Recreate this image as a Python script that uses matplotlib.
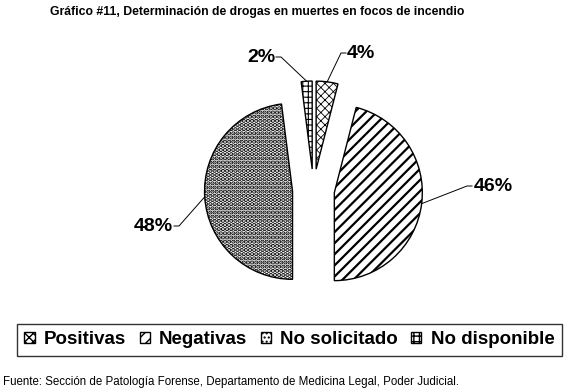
import matplotlib
matplotlib.use("Agg")
import matplotlib.pyplot as plt
import numpy as np

# ---- data ----
categories = ["Positivas", "Negativas", "No solicitado", "No disponible"]
values = [4, 46, 48, 2]
labels = ["4%", "46%", "48%", "2%"]
title = "Gráfico #11, Determinación de drogas en muertes en focos de incendio"
source = "Fuente: Sección de Patología Forense, Departamento de Medicina Legal, Poder Judicial."

# ---- style ----
hatches = ["xxxx", "///", "....", "+++"]
hatch_lw = [0.6, 1.6, 2.2, 0.8]
W, H = 568, 392
fig = plt.figure(figsize=(W / 100, H / 100), dpi=100)
ax = fig.add_axes([0, 0, 1, 1])

cx, cy, R = 313.5, H - 190, 88
explode = [21] * 4  # absolute offset in pixels (data units)
wedges, _ = ax.pie(values, startangle=90, counterclock=False, radius=R,
                   center=(cx, cy), explode=explode,
                   wedgeprops=dict(facecolor="white", edgecolor="black", linewidth=1.0))
ax.set_xlim(0, W)
ax.set_ylim(0, H)
ax.set_aspect("equal")
ax.axis("off")
for w, h, lw in zip(wedges, hatches, hatch_lw):
    w.set_hatch(h)
    if hasattr(w, "set_hatch_linewidth"):
        w.set_hatch_linewidth(lw)
    else:
        w._hatch_linewidth = lw

# label positions (pixel layout: text center, elbow x, side)
label_layout = [
    (361, 53, 341, "left"),
    (493, 186, 467, "left"),
    (153, 226, 179, "right"),
    (261, 57, 281, "right"),
]
for w, lab, (tx, ty, ex, side) in zip(wedges, labels, label_layout):
    mid = np.deg2rad((w.theta1 + w.theta2) / 2)
    wc = w.center
    ax_pt = (wc[0] + w.r * np.cos(mid), wc[1] + w.r * np.sin(mid))
    ty_d = H - ty
    if side == "left":
        ex2 = ex + 5
    else:
        ex2 = ex - 5
    ax.plot([ax_pt[0], ex, ex2], [ax_pt[1], ty_d, ty_d], color="black", lw=0.7)
    ax.text(tx, ty_d, lab, ha="center", va="center", fontsize=14,
            fontweight="bold", family="Liberation Sans")

fig.text(257.5 / W, 1 - 12 / H, title, ha="center", va="center", fontsize=8.8,
         fontweight="bold", family=["Liberation Sans Narrow", "Liberation Sans"])
fig.text(3 / W, 1 - 382 / H, source, ha="left", va="center", fontsize=8.3,
         family="Liberation Sans")

leg = fig.legend(wedges, categories, loc="center", bbox_to_anchor=(289.5 / W, 1 - 339.5 / H),
                 ncol=4, frameon=True, fancybox=False, edgecolor="black",
                 prop=dict(family="Liberation Sans", weight="bold", size=13.5),
                 handlelength=0.55, handleheight=0.55, handletextpad=0.5,
                 columnspacing=0.7, borderpad=0.4, borderaxespad=0)
leg.get_frame().set_linewidth(1.0)

fig.savefig("out.png", dpi=100)
